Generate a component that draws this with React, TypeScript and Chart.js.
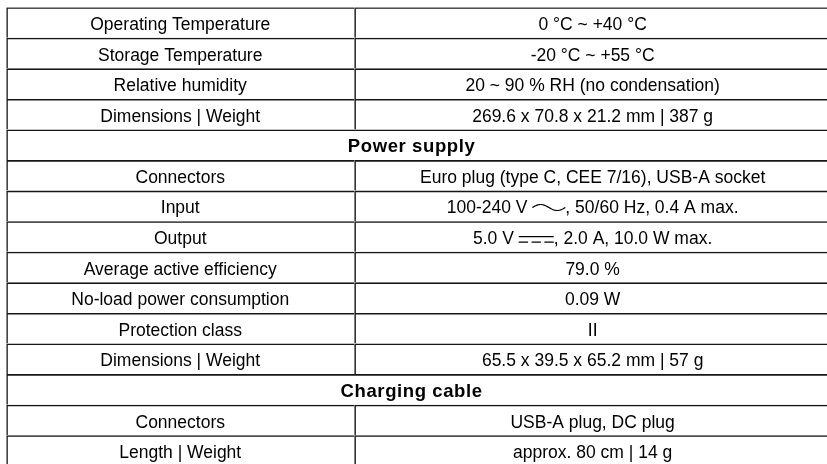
import React, { useEffect, useRef } from "react";
import { Chart, registerables } from "chart.js";

Chart.register(...registerables);

// ---- data ----
const specLabels: string[] = [
  "Operating Temperature",
  "Storage Temperature",
  "Relative humidity",
  "Dimensions | Weight",
  "Power supply",
  "Connectors",
  "Input",
  "Output",
  "Average active efficiency",
  "No-load power consumption",
  "Protection class",
  "Dimensions | Weight",
  "Charging cable",
  "Connectors",
  "Length | Weight",
];

// null = section header row spanning both columns
const specValues: (string | null)[] = [
  "0 °C ~ +40 °C",
  "-20 °C ~ +55 °C",
  "20 ~ 90 % RH (no condensation)",
  "269.6 x 70.8 x 21.2 mm | 387 g",
  null,
  "Euro plug (type C, CEE 7/16), USB-A socket",
  "100-240 V {AC}, 50/60 Hz, 0.4 A max.",
  "5.0 V {DC}, 2.0 A, 10.0 W max.",
  "79.0 %",
  "0.09 W",
  "II",
  "65.5 x 39.5 x 65.2 mm | 57 g",
  null,
  "USB-A plug, DC plug",
  "approx. 80 cm | 14 g",
];

const COL_SPLIT = 0.422; // fraction of table width taken by first column

const FONT_FAMILY = '"Liberation Sans", Arial, sans-serif';
const LINE_COLOR = "#161616";
const TEXT_COLOR = "#000";

function drawAC(ctx: CanvasRenderingContext2D, x: number, baseline: number, w: number) {
  const mid = baseline - 6;
  ctx.save();
  ctx.lineWidth = 1.2;
  ctx.beginPath();
  for (let i = 0; i <= 48; i++) {
    const t = i / 48;
    const px = x + t * w;
    const py = mid - 3 * Math.sin(2 * Math.PI * t);
    if (i === 0) ctx.moveTo(px, py);
    else ctx.lineTo(px, py);
  }
  ctx.stroke();
  ctx.restore();
}

function drawDC(ctx: CanvasRenderingContext2D, x: number, baseline: number, w: number) {
  ctx.save();
  ctx.lineWidth = 1.4;
  ctx.beginPath();
  ctx.moveTo(x, baseline - 7.5);
  ctx.lineTo(x + w, baseline - 7.5);
  const gap = 3.5;
  const d = (w - 2 * gap) / 3;
  for (let i = 0; i < 3; i++) {
    const sx = x + i * (d + gap);
    ctx.moveTo(sx, baseline - 2);
    ctx.lineTo(sx + d, baseline - 2);
  }
  ctx.stroke();
  ctx.restore();
}

const SYMBOL_W: Record<string, number> = { "{AC}": 33, "{DC}": 35 };

function drawRichText(ctx: CanvasRenderingContext2D, text: string, cx: number, baseline: number) {
  const parts = text.split(/(\{AC\}|\{DC\})/).filter((p) => p.length > 0);
  const widths = parts.map((p) => (SYMBOL_W[p] !== undefined ? SYMBOL_W[p] : ctx.measureText(p).width));
  const total = widths.reduce((a, b) => a + b, 0);
  let x = cx - total / 2;
  ctx.textAlign = "left";
  parts.forEach((p, i) => {
    if (p === "{AC}") drawAC(ctx, x, baseline, widths[i]);
    else if (p === "{DC}") drawDC(ctx, x, baseline, widths[i]);
    else ctx.fillText(p, x, baseline);
    x += widths[i];
  });
}

const tableTextPlugin = {
  id: "tableText",
  afterDatasetsDraw(chart: any) {
    const ctx: CanvasRenderingContext2D = chart.ctx;
    ctx.save();
    ctx.fillStyle = TEXT_COLOR;
    ctx.strokeStyle = TEXT_COLOR;
    ctx.textBaseline = "alphabetic";
    chart.data.datasets.forEach((ds: any, di: number) => {
      const meta = chart.getDatasetMeta(di);
      meta.data.forEach((el: any, i: number) => {
        if (!ds.data[i]) return;
        const txt: string | null = ds.cellTexts[i];
        if (!txt) return;
        const p = el.getProps(["x", "y", "base"], true);
        const cx = (p.x + p.base) / 2 + (ds.header ? -7 : 0);
        const baseline = p.y + 7.6;
        if (ds.header) {
          ctx.font = `bold 18.5px ${FONT_FAMILY}`;
          (ctx as any).letterSpacing = "0.6px";
        } else {
          ctx.font = `17.5px ${FONT_FAMILY}`;
          (ctx as any).letterSpacing = "0px";
        }
        drawRichText(ctx, txt, cx, baseline);
      });
    });
    (ctx as any).letterSpacing = "0px";
    ctx.restore();
  },
};

const cellStyle = {
  backgroundColor: "rgba(255,255,255,0)",
  borderColor: LINE_COLOR,
  borderWidth: { top: 1.6, left: 1.6, right: 0, bottom: 0 },
  borderSkipped: false,
  inflateAmount: 0,
  barPercentage: 1,
  categoryPercentage: 1,
  grouped: false,
};

export default function App() {
  const canvasRef = useRef<HTMLCanvasElement | null>(null);

  useEffect(() => {
    if (!canvasRef.current) return;
    const labelCells = specValues.map((v) => (v === null ? null : [0, COL_SPLIT]));
    const valueCells = specValues.map((v) => (v === null ? null : [COL_SPLIT, 1]));
    const headerCells = specValues.map((v) => (v === null ? [0, 1] : null));

    const chart = new Chart(canvasRef.current, {
      type: "bar",
      data: {
        labels: specLabels,
        datasets: [
          { label: "Parameter", data: labelCells as any, cellTexts: specLabels, header: false, ...cellStyle } as any,
          { label: "Value", data: valueCells as any, cellTexts: specValues, header: false, ...cellStyle } as any,
          { label: "Section", data: headerCells as any, cellTexts: specLabels, header: true, ...cellStyle } as any,
        ],
      },
      options: {
        indexAxis: "y",
        responsive: false,
        animation: false,
        devicePixelRatio: 1,
        layout: { padding: { left: 6.2, top: 7.15, right: 14, bottom: 14.2 } },
        scales: {
          x: { type: "linear", min: 0, max: 1, display: false },
          y: { type: "category", display: false, offset: true },
        },
        plugins: {
          legend: { display: false },
          tooltip: { enabled: false },
          title: { display: false },
        },
        events: [],
      },
      plugins: [tableTextPlugin],
    });
    return () => chart.destroy();
  }, []);

  return (
    <div
      style={{
        position: "fixed",
        left: 0,
        top: 0,
        width: 827,
        height: 464,
        overflow: "hidden",
        background: "#fff",
      }}
    >
      <canvas ref={canvasRef} width={845} height={480} style={{ display: "block" }} />
    </div>
  );
}
